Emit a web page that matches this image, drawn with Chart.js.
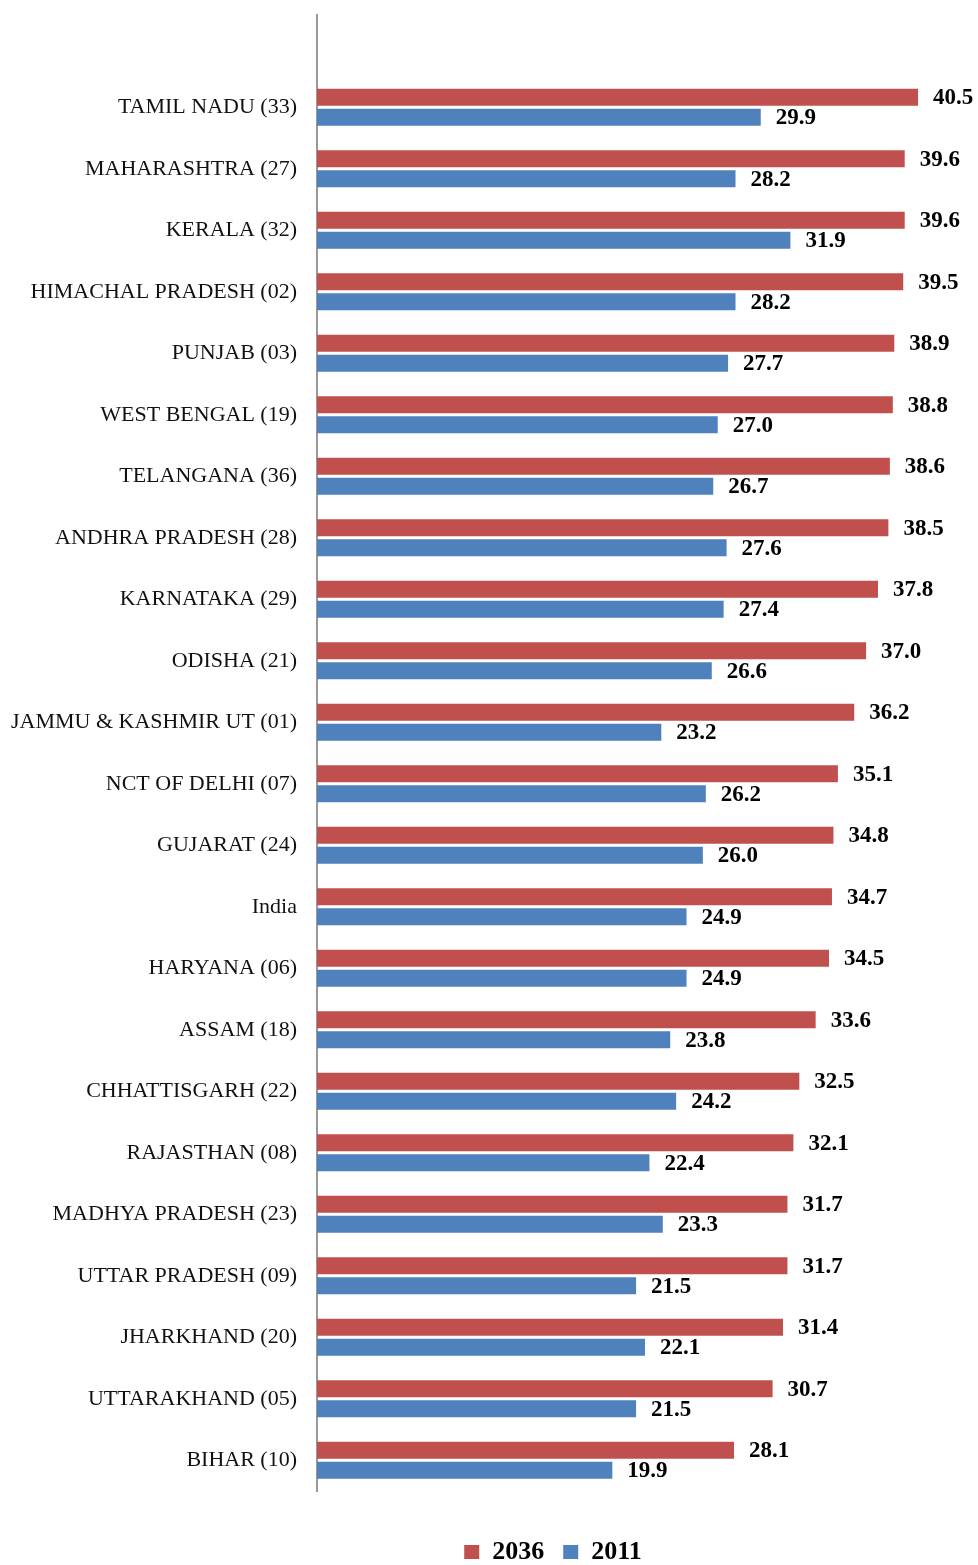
<!DOCTYPE html>
<html>
<head>
<meta charset="utf-8">
<script src="https://cdn.jsdelivr.net/npm/chart.js@4/dist/chart.umd.min.js"></script>
<style>
html,body{margin:0;padding:0;background:#fff;overflow:hidden;}
#wrap{width:978px;height:1565px;position:relative;}
</style>
</head>
<body>
<div id="wrap"><canvas id="c"></canvas></div>
<script>
const categories = ["", "TAMIL NADU (33)", "MAHARASHTRA (27)", "KERALA (32)", "HIMACHAL PRADESH (02)", "PUNJAB (03)", "WEST BENGAL (19)", "TELANGANA (36)", "ANDHRA PRADESH (28)", "KARNATAKA (29)", "ODISHA (21)", "JAMMU & KASHMIR UT (01)", "NCT OF DELHI (07)", "GUJARAT (24)", "India", "HARYANA (06)", "ASSAM (18)", "CHHATTISGARH (22)", "RAJASTHAN (08)", "MADHYA PRADESH (23)", "UTTAR PRADESH (09)", "JHARKHAND (20)", "UTTARAKHAND (05)", "BIHAR (10)"];
const values2036 = [null, 40.5, 39.6, 39.6, 39.5, 38.9, 38.8, 38.6, 38.5, 37.8, 37.0, 36.2, 35.1, 34.8, 34.7, 34.5, 33.6, 32.5, 32.1, 31.7, 31.7, 31.4, 30.7, 28.1];
const values2011 = [null, 29.9, 28.2, 31.9, 28.2, 27.7, 27.0, 26.7, 27.6, 27.4, 26.6, 23.2, 26.2, 26.0, 24.9, 24.9, 23.8, 24.2, 22.4, 23.3, 21.5, 22.1, 21.5, 19.9];
const seriesNames = ["2036", "2011"];

const FONT = "'Liberation Serif', 'DejaVu Serif', serif";

const valueLabels = {
  id: 'valueLabels',
  afterDatasetsDraw(chart) {
    const ctx = chart.ctx;
    ctx.save();
    ctx.font = "bold 23px " + FONT;
    ctx.fillStyle = "#000";
    ctx.textAlign = "left";
    ctx.textBaseline = "middle";
    chart.data.datasets.forEach((ds, di) => {
      const meta = chart.getDatasetMeta(di);
      meta.data.forEach((bar, i) => {
        const v = ds.data[i];
        if (v === null || v === undefined) return;
        ctx.fillText(v.toFixed(1), bar.x + 15, bar.y + 1);
      });
    });
    ctx.restore();
  }
};

const legendShift = {
  id: 'legendShift',
  afterLayout(chart) {
    if (chart.legend) {
      chart.legend.left += 68;
      chart.legend.right += 68;
    }
  }
};

new Chart(document.getElementById('c'), {
  type: 'bar',
  data: {
    labels: categories,
    datasets: [
      { label: seriesNames[0], data: values2036, backgroundColor: '#C0504D', categoryPercentage: 0.65, barPercentage: 0.85 },
      { label: seriesNames[1], data: values2011, backgroundColor: '#4F81BD', categoryPercentage: 0.65, barPercentage: 0.85 }
    ]
  },
  options: {
    indexAxis: 'y',
    responsive: true,
    maintainAspectRatio: false,
    animation: false,
    layout: { padding: { top: 15, bottom: -10, left: 0, right: 8 } },
    scales: {
      x: {
        display: false,
        min: 0,
        max: 44
      },
      y: {
        afterFit(scale) { scale.width = 317; scale.paddingTop = 0; scale.paddingBottom = 0; },
        grid: { display: false, drawTicks: false },
        border: { display: true, color: '#999999', width: 2 },
        ticks: {
          padding: 20,
          color: '#111111',
          font: { family: FONT, size: 22 }
        }
      }
    },
    plugins: {
      tooltip: { enabled: false },
      legend: {
        position: 'bottom',
        title: { display: true, text: ' ', font: { size: 10, lineHeight: 1 }, padding: { top: 0, bottom: 19 } },
        labels: {
          color: '#000',
          boxWidth: 15,
          boxHeight: 14,
          padding: 19,
          font: { family: FONT, size: 26, weight: 'bold' }
        }
      }
    }
  },
  plugins: [valueLabels, legendShift]
});
</script>
</body>
</html>
